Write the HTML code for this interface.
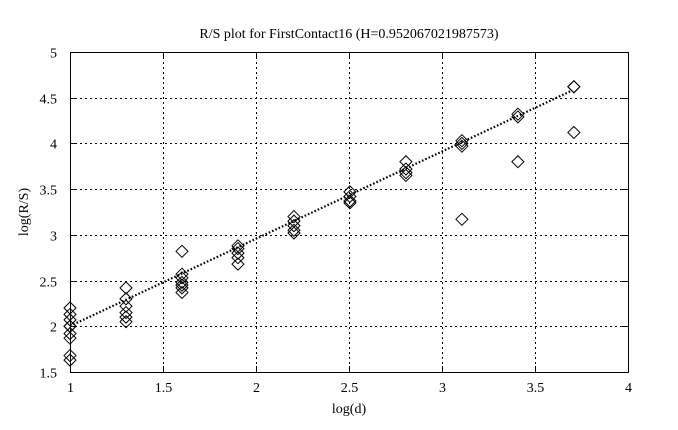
<!DOCTYPE html>
<html><head><meta charset="utf-8"><style>
html,body{margin:0;padding:0;background:#fff;width:678px;height:430px;overflow:hidden}
svg text{font-family:"Liberation Serif",serif;font-size:14px;fill:#000}
</style></head><body>
<svg id="s" width="678" height="430" xmlns="http://www.w3.org/2000/svg">
<rect width="678" height="430" fill="#fff"/>
<g id="grid" stroke="#000" stroke-width="1" stroke-dasharray="2,3"></g>
<rect x="70.5" y="52.5" width="558" height="320" fill="none" stroke="#000"/>
<g id="ticks" stroke="#000"></g>
<g id="labels"></g>
<line x1="70" y1="326" x2="571" y2="91" stroke="#000" stroke-width="2.2" stroke-dasharray="1.6,2"/>
<g id="pts" fill="none" stroke="#000" stroke-width="1"></g>
<text x="349" y="38" text-anchor="middle">R/S plot for FirstContact16 (H=0.952067021987573)</text>
<text x="349" y="413" text-anchor="middle">log(d)</text>
<text transform="translate(28,212) rotate(-90)" text-anchor="middle">log(R/S)</text>
</svg>
<script>
var X=function(v){return 70+(v-1)*186},Y=function(v){return 372-(v-1.5)*91.43};
var g=document.getElementById('grid'),t=document.getElementById('ticks'),l=document.getElementById('labels'),p=document.getElementById('pts');
var h='',tk='',lb='';
for(var i=1;i<=4.001;i+=0.5){var x=Math.round(X(i))+0.5;
 if(i>1&&i<4)h+='<line x1="'+x+'" y1="52" x2="'+x+'" y2="372"/>';
 tk+='<line x1="'+x+'" y1="372" x2="'+x+'" y2="366"/><line x1="'+x+'" y1="52" x2="'+x+'" y2="58"/>';
 lb+='<text x="'+x+'" y="392" text-anchor="middle">'+i+'</text>';}
for(var j=1.5;j<=5.001;j+=0.5){var y=Math.round(Y(j))+0.5;
 if(j>1.5&&j<5)h+='<line x1="70" y1="'+y+'" x2="628" y2="'+y+'"/>';
 tk+='<line x1="70" y1="'+y+'" x2="76" y2="'+y+'"/><line x1="628" y1="'+y+'" x2="622" y2="'+y+'"/>';
 lb+='<text x="57" y="'+(y+5)+'" text-anchor="end">'+j+'</text>';}
g.innerHTML=h;t.innerHTML=tk;l.innerHTML=lb;
var d=[[1,[2.2,2.13,2.07,2.0,2.0,1.92,1.87,1.68,1.63]],[1.301,[2.42,2.3,2.22,2.15,2.1,2.05]],[1.602,[2.82,2.57,2.53,2.48,2.45,2.42,2.37]],[1.903,[2.88,2.85,2.8,2.75,2.68]],[2.204,[3.2,3.15,3.1,3.05,3.02]],[2.505,[3.47,3.42,3.37,3.35]],[2.806,[3.8,3.72,3.68,3.65]],[3.107,[4.03,4.0,3.97,3.17]],[3.408,[4.32,4.29,3.8]],[3.709,[4.62,4.62,4.12]]];
var s='';d.forEach(function(a){a[1].forEach(function(v){var x=X(a[0]),y=Y(v);
 s+='<path d="M'+(x-6)+' '+y+'L'+x+' '+(y-6)+'L'+(x+6)+' '+y+'L'+x+' '+(y+6)+'Z"/>';});});
p.innerHTML=s;
</script>
</body></html>
